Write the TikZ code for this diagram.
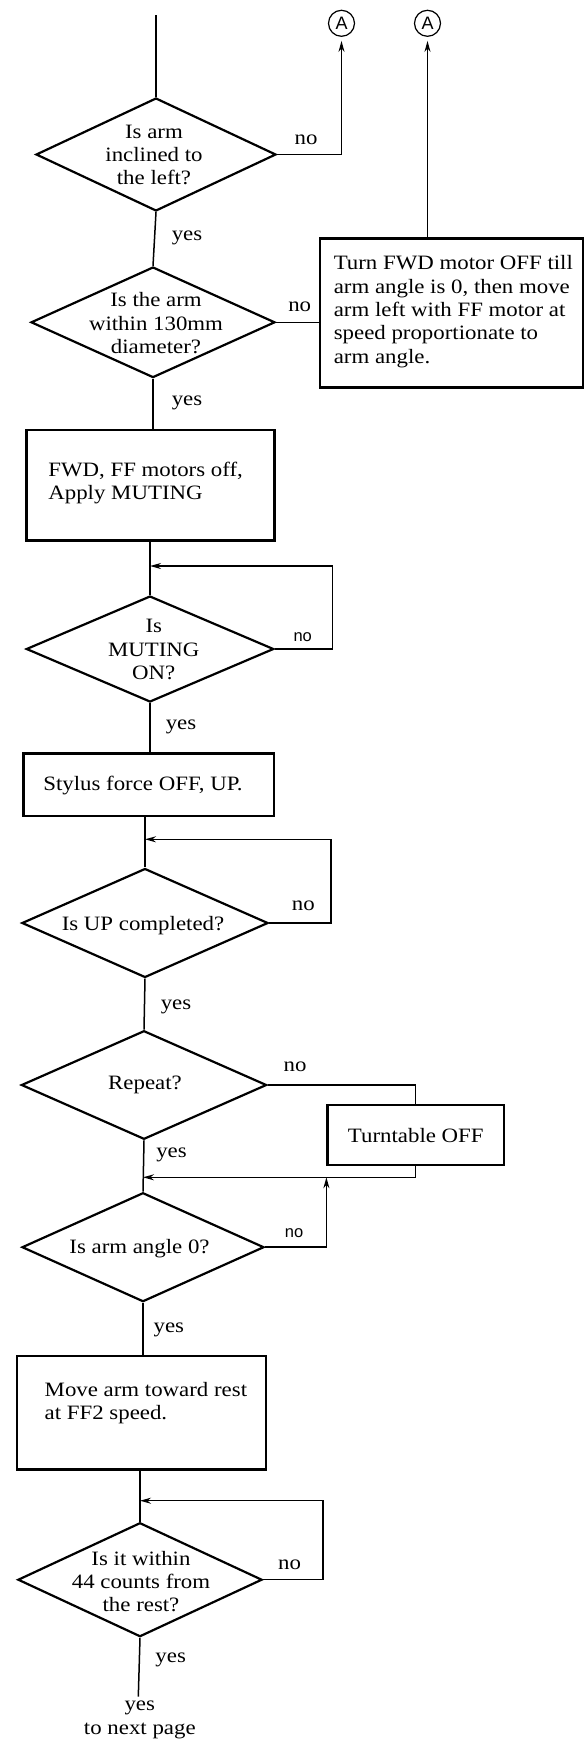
\documentclass[tikz,border=0pt]{standalone}
\usepackage{fontspec}
\setmainfont[FakeStretch=1.12]{Liberation Serif}
\setsansfont{Liberation Sans}
\usetikzlibrary{shapes.geometric,arrows.meta}
\begin{document}
\begin{tikzpicture}[x=1pt,y=-1pt,
  every node/.style={font=\fontsize{20.4}{23.3}\selectfont,inner sep=0pt},
  dia/.style={draw,diamond,line width=2.2pt,inner sep=0pt},
  box/.style={draw,rectangle,line width=2.6pt,inner sep=0pt},
  con/.style={line width=1.5pt},
  arr/.style={con,-{Stealth[length=11pt,width=6pt]}},
  txt/.style={align=center},
  ltxt/.style={align=left,anchor=north west},
  sans/.style={font=\sffamily\fontsize{16.5}{18}\selectfont},
  circ/.style={draw,circle,line width=1.2pt,minimum size=26pt,inner sep=0pt,font=\sffamily\fontsize{18}{18}\selectfont}
]
\useasboundingbox (0,0) rectangle (588,1746);

% connectors to A
\node[circ] (A1) at (341.5,23.3) {A};
\node[circ] (A2) at (427.5,23.3) {A};
\coordinate (top) at (156,15);

% decision 1
\node[dia,minimum width=240pt,minimum height=113pt] (d1) at (156,154.5) {};
\node[txt] (t1) at (154,155) {Is arm\\inclined to\\the left?};

% decision 2
\node[dia,minimum width=244pt,minimum height=110.6pt] (d2) at (153,322.3) {};
\node[txt] (t2) at (156,323.3) {Is the arm\\within 130mm\\diameter?};

% side box
\node[box,minimum width=263pt,minimum height=149pt] (b2) at (451.5,312.8) {};
\node[ltxt] (tb2) at (333.6,255.5) {Turn FWD motor OFF till\\arm angle is 0, then move\\arm left with FF motor at\\speed proportionate to\\arm angle.};

% box 3
\node[box,minimum width=248pt,minimum height=110.7pt] (b3) at (150.4,485.35) {};
\node[ltxt] (tb3) at (48.2,461.8) {FWD, FF motors off,\\Apply MUTING};

% decision 3
\node[dia,minimum width=247.5pt,minimum height=106pt] (d3) at (150,649) {};
\node[txt] (t3) at (153.8,649.5) {Is\\MUTING\\ON?};

% box 4
\node[box,minimum width=250.6pt,minimum height=62.7pt] (b4) at (148.7,784.7) {};
\node[txt] (tb4) at (143,786) {Stylus force OFF, UP.};

% decision 4
\node[dia,minimum width=246.2pt,minimum height=109pt] (d4) at (145,923) {};
\node[txt] (t4) at (143,926) {Is UP completed?};

% decision 5
\node[dia,minimum width=245.3pt,minimum height=108.6pt] (d5) at (144,1085) {};
\node[txt] (t5) at (145,1085) {Repeat?};

% box 5
\node[box,minimum width=176.8pt,minimum height=60pt] (b5) at (415.6,1135) {};
\node[txt] (tb5) at (415.8,1136) {Turntable OFF};

% decision 6
\node[dia,minimum width=242pt,minimum height=109pt] (d6) at (143,1247.2) {};
\node[txt] (t6) at (139.5,1249) {Is arm angle 0?};

% box 7
\node[box,minimum width=249pt,minimum height=113.3pt] (b7) at (141.5,1412.65) {};
\node[ltxt] (tb7) at (44.5,1382.3) {Move arm toward rest\\at FF2 speed.};

% decision 7
\node[dia,minimum width=244.2pt,minimum height=114pt] (d7) at (140,1579.7) {};
\node[txt] (t7) at (141,1581.7) {Is it within\\44 counts from\\the rest?};

\node[txt] (nxt) at (139.8,1720) {yes\\to next page};
\coordinate (endl) at (138.3,1696.7);

% labels
\node (n1) at (306,140) {no};
\node (y1) at (187,238) {yes};
\node (n2) at (299.7,306.7) {no};
\node (y2) at (187,403.3) {yes};
\node[sans] (n3) at (302.7,636.7) {no};
\node (y3) at (181,726.7) {yes};
\node (n4) at (303.4,906) {no};
\node (y4) at (176,1007.3) {yes};
\node (n5) at (295,1066.7) {no};
\node (y5) at (171.5,1155) {yes};
\node[sans] (n6) at (294,1233.3) {no};
\node (y6) at (168.9,1330) {yes};
\node (n7) at (289.5,1565) {no};
\node (y7) at (170.7,1660) {yes};

% loop corners
\coordinate (l3) at (332.5,566);
\coordinate (l4) at (331,839.3);
\coordinate (l7) at (323,1500.7);
\coordinate (jn) at (143,1177.3);
\coordinate (k6) at (326.4,1177.3);

% main chain
\draw[con] (top) -- (d1.north);
\draw[con] (d1.south) -- (d2.north);
\draw[con] (d2.south) -- (d2.south |- b3.north);
\draw[con] (d3.north |- b3.south) -- (d3.north);
\draw[con] (d3.south) -- (d3.south |- b4.north);
\draw[con] (d4.north |- b4.south) -- (d4.north);
\draw[con] (d4.south) -- (d5.north);
\draw[con] (d5.south) -- (d6.north);
\draw[con] (d6.south) -- (d6.south |- b7.north);
\draw[con] (d7.north |- b7.south) -- (d7.north);
\draw[con] (d7.south) -- (endl);

% branches
\draw[arr,shorten >=4pt] (d1.east) -| (A1.south);
\draw[arr,shorten >=4pt] (A2.south |- b2.north) -- (A2.south);
\draw[con] (d2.east) -- (d2.east -| b2.west);
\draw[arr] (d3.east) -| (l3) -- (l3 -| d3.north);
\draw[arr] (d4.east) -| (l4) -- (l4 -| d4.north);
\draw[con] (d5.east) -| (b5.north);
\draw[arr] (b5.south) |- (jn);
\draw[arr] (d6.east) -| (k6);
\draw[arr] (d7.east) -| (l7) -- (l7 -| d7.north);
\end{tikzpicture}
\end{document}
